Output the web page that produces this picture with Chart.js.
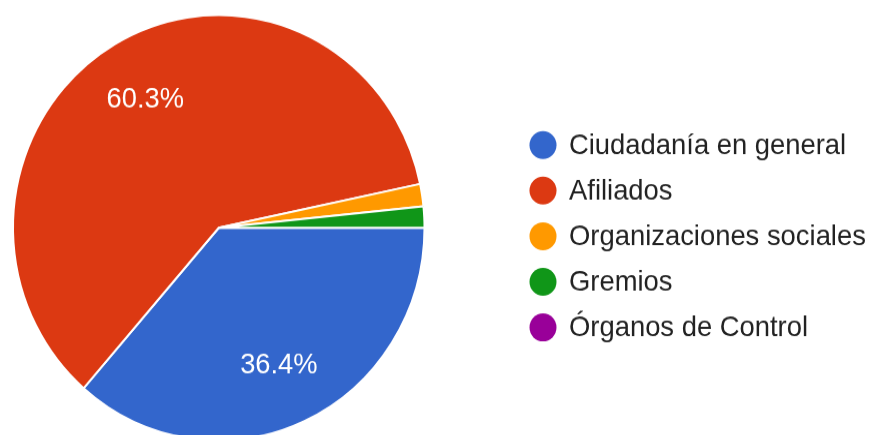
<!DOCTYPE html>
<html>
<head>
<meta charset="utf-8">
<script src="https://cdn.jsdelivr.net/npm/chart.js@4"></script>
<style>
  html, body { margin: 0; padding: 0; background: #fff; }
  #wrap { width: 870px; height: 435px; position: relative; overflow: hidden; }
</style>
</head>
<body>
<!-- la imagen original está un poco estirada en vertical -->
<div id="wrap"><canvas id="grupos" width="870" height="440" style="width:870px;height:455px;display:block"></canvas></div>
<script>
const labels = [
    "Ciudadanía en general",
    "Afiliados",
    "Organizaciones sociales",
    "Gremios",
    "Órganos de Control",
];
const valores = [36.4, 60.3, 1.7, 1.6, 0];
const colores = ['#3366cc', '#dc3912', '#ff9900', '#109618', '#990099'];

const FUENTE = 'Arial, "Liberation Sans", sans-serif';

// etiquetas de porcentaje dentro de las porciones grandes
const etiquetasPie = {
    id: 'etiquetasPie',
    afterDatasetsDraw(chart) {
        const ctx = chart.ctx;
        const meta = chart.getDatasetMeta(0);
        const total = valores.reduce((a, b) => a + b, 0);
        ctx.save();
        ctx.font = '27.3px ' + FUENTE;
        ctx.fillStyle = '#ffffff';
        ctx.textAlign = 'center';
        ctx.textBaseline = 'middle';
        meta.data.forEach((arc, i) => {
            const pct = valores[i] / total * 100;
            if (pct < 5) return;
            const p = arc.getProps(['x', 'y', 'startAngle', 'endAngle', 'outerRadius'], true);
            const mid = (p.startAngle + p.endAngle) / 2;
            const r = p.outerRadius * 0.705;
            ctx.fillText(pct.toFixed(1) + '%', p.x + Math.cos(mid) * r, p.y + Math.sin(mid) * r + 1);
        });
        ctx.restore();
    }
};

// leyenda a la derecha
const leyenda = {
    id: 'leyenda',
    afterDraw(chart) {
        const ctx = chart.ctx;
        ctx.save();
        ctx.font = '27.4px ' + FUENTE;
        ctx.textBaseline = 'middle';
        ctx.textAlign = 'left';
        labels.forEach((lab, i) => {
            const y = 140.2 + i * 44.1;
            ctx.beginPath();
            ctx.arc(543, y, 13.5, 0, Math.PI * 2);
            ctx.fillStyle = colores[i];
            ctx.fill();
            ctx.fillStyle = '#222222';
            ctx.fillText(lab, 569, y + 1);
        });
        ctx.restore();
    }
};

const ctx = document.getElementById('grupos').getContext('2d');
new Chart(ctx, {
    type: 'pie',
    data: {
        labels: labels,
        datasets: [{
            data: valores,
            backgroundColor: colores,
            borderColor: '#ffffff',
            borderWidth: 2
        }]
    },
    options: {
        responsive: false,
        animation: false,
        rotation: 90,
        layout: {
            padding: { top: 13.5, bottom: 13, left: 12, right: 444.5 }
        },
        plugins: {
            legend: { display: false },
            tooltip: { enabled: false }
        }
    },
    plugins: [etiquetasPie, leyenda]
});
</script>
</body>
</html>
